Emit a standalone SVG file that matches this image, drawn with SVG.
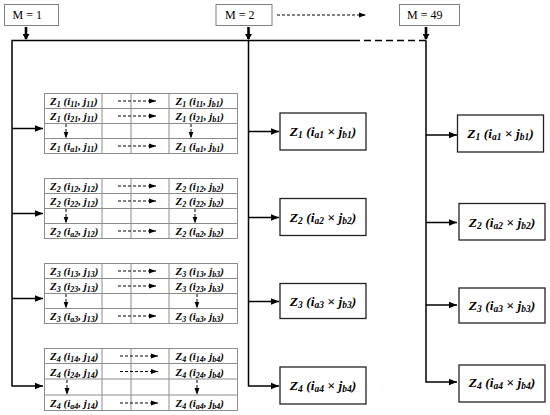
<svg xmlns="http://www.w3.org/2000/svg" width="550" height="415" viewBox="0 0 550 415">
<style>
.mbox{fill:#fff;stroke:#808080;stroke-width:1}
.mtxt{font-family:"Liberation Serif",serif;font-size:12px;fill:#000}
.conn{fill:none;stroke:#000;stroke-width:1.5}
.thick{fill:none;stroke:#000;stroke-width:2.6}
.dash{fill:none;stroke:#000;stroke-width:1;stroke-dasharray:3,2}
.grid{fill:#fff;stroke:#8c8c8c;stroke-width:1}
.gl{stroke:#8c8c8c;stroke-width:1}
.tt{font-family:"Liberation Serif",serif;font-size:11px;font-weight:bold;font-style:italic;fill:#000}
.zb{fill:#fff;stroke:#222;stroke-width:1.3}
.zt{font-family:"Liberation Serif",serif;font-size:13.5px;font-weight:bold;font-style:italic;fill:#000;text-anchor:middle}
.s{font-size:8px}
.s2{font-size:9.5px}
</style>
<defs>
<marker id="ah" markerUnits="userSpaceOnUse" markerWidth="8" markerHeight="8" viewBox="0 0 8 8" refX="8" refY="4" orient="auto">
<path d="M0,0.8 L8,4 L0,7.2 Z" fill="#000"/>
</marker>
<marker id="ahs" markerUnits="userSpaceOnUse" markerWidth="7" markerHeight="6" viewBox="0 0 7 6" refX="7" refY="3" orient="auto">
<path d="M0,0.5 L7,3 L0,5.5 Z" fill="#000"/>
</marker>
<marker id="aht" markerUnits="userSpaceOnUse" markerWidth="7" markerHeight="7" viewBox="0 0 7 7" refX="5" refY="3.5" orient="auto">
<path d="M0,0 L6,3.5 L0,7 Z" fill="#000"/>
</marker>
</defs>

<g id="m1"><rect class="mbox" x="4.5" y="4.5" width="54" height="21"/><text class="mtxt" x="12.5" y="19">M = 1</text></g>
<g id="m2"><rect class="mbox" x="216" y="4.5" width="56" height="21"/><text class="mtxt" x="225" y="19">M = 2</text></g>
<g id="m49"><rect class="mbox" x="399.5" y="4.5" width="60" height="21"/><text class="mtxt" x="407" y="19">M = 49</text></g>

<g id="connectors">
<line class="dash" x1="277" y1="15" x2="366" y2="15" stroke-width="1.3" stroke-dasharray="4,2.5" marker-end="url(#ahs)"/>
<line class="thick" x1="26" y1="27" x2="26" y2="39" marker-end="url(#aht)"/>
<line class="thick" x1="248.5" y1="27" x2="248.5" y2="39" marker-end="url(#aht)"/>
<line class="thick" x1="426" y1="27" x2="426" y2="39" marker-end="url(#aht)"/>
<polyline class="conn" points="353,40.5 12,40.5 12,386 43,386" marker-end="url(#ah)"/>
<line class="conn" x1="353" y1="40.5" x2="426" y2="40.5" stroke-dasharray="7,4"/>
<line class="conn" x1="12" y1="128.5" x2="43" y2="128.5" marker-end="url(#ah)"/>
<line class="conn" x1="12" y1="213.5" x2="43" y2="213.5" marker-end="url(#ah)"/>
<line class="conn" x1="12" y1="298.5" x2="43" y2="298.5" marker-end="url(#ah)"/>
<polyline class="conn" points="248.5,40.5 248.5,386 279,386" marker-end="url(#ah)"/>
<line class="conn" x1="248.5" y1="131.5" x2="279" y2="131.5" marker-end="url(#ah)"/>
<line class="conn" x1="248.5" y1="217.5" x2="279" y2="217.5" marker-end="url(#ah)"/>
<line class="conn" x1="248.5" y1="301.5" x2="279" y2="301.5" marker-end="url(#ah)"/>
<polyline class="conn" points="426,40.5 426,382 457,382" marker-end="url(#ah)"/>
<line class="conn" x1="426" y1="135" x2="457" y2="135" marker-end="url(#ah)"/>
<line class="conn" x1="426" y1="222.5" x2="457" y2="222.5" marker-end="url(#ah)"/>
<line class="conn" x1="426" y1="305" x2="457" y2="305" marker-end="url(#ah)"/>
</g>

<g id="table1" transform="translate(0,93)">
<rect class="grid" x="44.5" y="0.5" width="193" height="60"/>
<line class="gl" x1="44.5" y1="15.5" x2="237.5" y2="15.5"/><line class="gl" x1="44.5" y1="30.5" x2="237.5" y2="30.5"/><line class="gl" x1="44.5" y1="45.5" x2="237.5" y2="45.5"/>
<line class="gl" x1="102" y1="0.5" x2="102" y2="60.5"/><line class="gl" x1="131" y1="0.5" x2="131" y2="60.5"/><line class="gl" x1="169" y1="0.5" x2="169" y2="60.5"/>
<text class="tt" x="50" y="12">Z<tspan class="s" dy="2">1</tspan><tspan dy="-2"> (i</tspan><tspan class="s" dy="2">11</tspan><tspan dy="-2">, j</tspan><tspan class="s" dy="2">11</tspan><tspan dy="-2">)</tspan></text>
<text class="tt" x="50" y="27">Z<tspan class="s" dy="2">1</tspan><tspan dy="-2"> (i</tspan><tspan class="s" dy="2">21</tspan><tspan dy="-2">, j</tspan><tspan class="s" dy="2">11</tspan><tspan dy="-2">)</tspan></text>
<text class="tt" x="50" y="57">Z<tspan class="s" dy="2">1</tspan><tspan dy="-2"> (i</tspan><tspan class="s" dy="2">a1</tspan><tspan dy="-2">, j</tspan><tspan class="s" dy="2">11</tspan><tspan dy="-2">)</tspan></text>
<text class="tt" x="175.5" y="12">Z<tspan class="s" dy="2">1</tspan><tspan dy="-2"> (i</tspan><tspan class="s" dy="2">11</tspan><tspan dy="-2">, j</tspan><tspan class="s" dy="2">b1</tspan><tspan dy="-2">)</tspan></text>
<text class="tt" x="175.5" y="27">Z<tspan class="s" dy="2">1</tspan><tspan dy="-2"> (i</tspan><tspan class="s" dy="2">21</tspan><tspan dy="-2">, j</tspan><tspan class="s" dy="2">b1</tspan><tspan dy="-2">)</tspan></text>
<text class="tt" x="175.5" y="57">Z<tspan class="s" dy="2">1</tspan><tspan dy="-2"> (i</tspan><tspan class="s" dy="2">a1</tspan><tspan dy="-2">, j</tspan><tspan class="s" dy="2">b1</tspan><tspan dy="-2">)</tspan></text>
<line class="dash" x1="118" y1="8" x2="156" y2="8" marker-end="url(#ahs)"/>
<line class="dash" x1="118" y1="23" x2="156" y2="23" marker-end="url(#ahs)"/>
<line class="dash" x1="118" y1="53" x2="156" y2="53" marker-end="url(#ahs)"/>
<line class="dash" x1="66" y1="31" x2="66" y2="45.5" marker-end="url(#ahs)"/>
<line class="dash" x1="191" y1="31" x2="191" y2="45.5" marker-end="url(#ahs)"/>
</g>

<g id="table2" transform="translate(0,178)">
<rect class="grid" x="44.5" y="0.5" width="193" height="60"/>
<line class="gl" x1="44.5" y1="15.5" x2="237.5" y2="15.5"/><line class="gl" x1="44.5" y1="30.5" x2="237.5" y2="30.5"/><line class="gl" x1="44.5" y1="45.5" x2="237.5" y2="45.5"/>
<line class="gl" x1="102" y1="0.5" x2="102" y2="60.5"/><line class="gl" x1="131" y1="0.5" x2="131" y2="60.5"/><line class="gl" x1="169" y1="0.5" x2="169" y2="60.5"/>
<text class="tt" x="50" y="12">Z<tspan class="s" dy="2">2</tspan><tspan dy="-2"> (i</tspan><tspan class="s" dy="2">12</tspan><tspan dy="-2">, j</tspan><tspan class="s" dy="2">12</tspan><tspan dy="-2">)</tspan></text>
<text class="tt" x="50" y="27">Z<tspan class="s" dy="2">2</tspan><tspan dy="-2"> (i</tspan><tspan class="s" dy="2">22</tspan><tspan dy="-2">, j</tspan><tspan class="s" dy="2">12</tspan><tspan dy="-2">)</tspan></text>
<text class="tt" x="50" y="57">Z<tspan class="s" dy="2">2</tspan><tspan dy="-2"> (i</tspan><tspan class="s" dy="2">a2</tspan><tspan dy="-2">, j</tspan><tspan class="s" dy="2">12</tspan><tspan dy="-2">)</tspan></text>
<text class="tt" x="175.5" y="12">Z<tspan class="s" dy="2">2</tspan><tspan dy="-2"> (i</tspan><tspan class="s" dy="2">12</tspan><tspan dy="-2">, j</tspan><tspan class="s" dy="2">b2</tspan><tspan dy="-2">)</tspan></text>
<text class="tt" x="175.5" y="27">Z<tspan class="s" dy="2">2</tspan><tspan dy="-2"> (i</tspan><tspan class="s" dy="2">22</tspan><tspan dy="-2">, j</tspan><tspan class="s" dy="2">b2</tspan><tspan dy="-2">)</tspan></text>
<text class="tt" x="175.5" y="57">Z<tspan class="s" dy="2">2</tspan><tspan dy="-2"> (i</tspan><tspan class="s" dy="2">a2</tspan><tspan dy="-2">, j</tspan><tspan class="s" dy="2">b2</tspan><tspan dy="-2">)</tspan></text>
<line class="dash" x1="118" y1="8" x2="156" y2="8" marker-end="url(#ahs)"/>
<line class="dash" x1="118" y1="23" x2="156" y2="23" marker-end="url(#ahs)"/>
<line class="dash" x1="118" y1="53" x2="156" y2="53" marker-end="url(#ahs)"/>
<line class="dash" x1="66" y1="31" x2="66" y2="45.5" marker-end="url(#ahs)"/>
<line class="dash" x1="195" y1="31" x2="195" y2="45.5" marker-end="url(#ahs)"/>
</g>

<g id="table3" transform="translate(0,263)">
<rect class="grid" x="44.5" y="0.5" width="193" height="60"/>
<line class="gl" x1="44.5" y1="15.5" x2="237.5" y2="15.5"/><line class="gl" x1="44.5" y1="30.5" x2="237.5" y2="30.5"/><line class="gl" x1="44.5" y1="45.5" x2="237.5" y2="45.5"/>
<line class="gl" x1="102" y1="0.5" x2="102" y2="60.5"/><line class="gl" x1="131" y1="0.5" x2="131" y2="60.5"/><line class="gl" x1="169" y1="0.5" x2="169" y2="60.5"/>
<text class="tt" x="50" y="12">Z<tspan class="s" dy="2">3</tspan><tspan dy="-2"> (i</tspan><tspan class="s" dy="2">13</tspan><tspan dy="-2">, j</tspan><tspan class="s" dy="2">13</tspan><tspan dy="-2">)</tspan></text>
<text class="tt" x="50" y="27">Z<tspan class="s" dy="2">3</tspan><tspan dy="-2"> (i</tspan><tspan class="s" dy="2">23</tspan><tspan dy="-2">, j</tspan><tspan class="s" dy="2">13</tspan><tspan dy="-2">)</tspan></text>
<text class="tt" x="50" y="57">Z<tspan class="s" dy="2">3</tspan><tspan dy="-2"> (i</tspan><tspan class="s" dy="2">a3</tspan><tspan dy="-2">, j</tspan><tspan class="s" dy="2">13</tspan><tspan dy="-2">)</tspan></text>
<text class="tt" x="175.5" y="12">Z<tspan class="s" dy="2">3</tspan><tspan dy="-2"> (i</tspan><tspan class="s" dy="2">13</tspan><tspan dy="-2">, j</tspan><tspan class="s" dy="2">b3</tspan><tspan dy="-2">)</tspan></text>
<text class="tt" x="175.5" y="27">Z<tspan class="s" dy="2">3</tspan><tspan dy="-2"> (i</tspan><tspan class="s" dy="2">23</tspan><tspan dy="-2">, j</tspan><tspan class="s" dy="2">b3</tspan><tspan dy="-2">)</tspan></text>
<text class="tt" x="175.5" y="57">Z<tspan class="s" dy="2">3</tspan><tspan dy="-2"> (i</tspan><tspan class="s" dy="2">a3</tspan><tspan dy="-2">, j</tspan><tspan class="s" dy="2">b3</tspan><tspan dy="-2">)</tspan></text>
<line class="dash" x1="118" y1="8" x2="156" y2="8" marker-end="url(#ahs)"/>
<line class="dash" x1="118" y1="23" x2="156" y2="23" marker-end="url(#ahs)"/>
<line class="dash" x1="118" y1="53" x2="156" y2="53" marker-end="url(#ahs)"/>
<line class="dash" x1="66" y1="31" x2="66" y2="45.5" marker-end="url(#ahs)"/>
<line class="dash" x1="197" y1="31" x2="197" y2="45.5" marker-end="url(#ahs)"/>
</g>

<g id="table4" transform="translate(0,348)">
<rect class="grid" x="44.5" y="0.5" width="193" height="62"/>
<line class="gl" x1="44.5" y1="15.5" x2="237.5" y2="15.5"/><line class="gl" x1="44.5" y1="31" x2="237.5" y2="31"/><line class="gl" x1="44.5" y1="47" x2="237.5" y2="47"/>
<line class="gl" x1="102" y1="0.5" x2="102" y2="62.5"/><line class="gl" x1="131" y1="0.5" x2="131" y2="62.5"/><line class="gl" x1="169" y1="0.5" x2="169" y2="62.5"/>
<text class="tt" x="50" y="12">Z<tspan class="s" dy="2">4</tspan><tspan dy="-2"> (i</tspan><tspan class="s" dy="2">14</tspan><tspan dy="-2">, j</tspan><tspan class="s" dy="2">14</tspan><tspan dy="-2">)</tspan></text>
<text class="tt" x="50" y="27.5">Z<tspan class="s" dy="2">4</tspan><tspan dy="-2"> (i</tspan><tspan class="s" dy="2">24</tspan><tspan dy="-2">, j</tspan><tspan class="s" dy="2">14</tspan><tspan dy="-2">)</tspan></text>
<text class="tt" x="50" y="59">Z<tspan class="s" dy="2">4</tspan><tspan dy="-2"> (i</tspan><tspan class="s" dy="2">a4</tspan><tspan dy="-2">, j</tspan><tspan class="s" dy="2">14</tspan><tspan dy="-2">)</tspan></text>
<text class="tt" x="175.5" y="12">Z<tspan class="s" dy="2">4</tspan><tspan dy="-2"> (i</tspan><tspan class="s" dy="2">14</tspan><tspan dy="-2">, j</tspan><tspan class="s" dy="2">b4</tspan><tspan dy="-2">)</tspan></text>
<text class="tt" x="175.5" y="27.5">Z<tspan class="s" dy="2">4</tspan><tspan dy="-2"> (i</tspan><tspan class="s" dy="2">24</tspan><tspan dy="-2">, j</tspan><tspan class="s" dy="2">b4</tspan><tspan dy="-2">)</tspan></text>
<text class="tt" x="175.5" y="59">Z<tspan class="s" dy="2">4</tspan><tspan dy="-2"> (i</tspan><tspan class="s" dy="2">a4</tspan><tspan dy="-2">, j</tspan><tspan class="s" dy="2">b4</tspan><tspan dy="-2">)</tspan></text>
<line class="dash" x1="120" y1="8" x2="158" y2="8" marker-end="url(#ahs)"/>
<line class="dash" x1="120" y1="23.5" x2="158" y2="23.5" marker-end="url(#ahs)"/>
<line class="dash" x1="120" y1="55" x2="158" y2="55" marker-end="url(#ahs)"/>
<line class="dash" x1="67" y1="32" x2="67" y2="47" marker-end="url(#ahs)"/>
<line class="dash" x1="197" y1="32" x2="197" y2="47" marker-end="url(#ahs)"/>
</g>

<g id="r2_1"><rect class="zb" x="280" y="113" width="86" height="37"/><text class="zt" x="323" y="136">Z<tspan class="s2" dy="2">1</tspan><tspan dy="-2"> (i</tspan><tspan class="s2" dy="2">a1</tspan><tspan dy="-2"> × j</tspan><tspan class="s2" dy="2">b1</tspan><tspan dy="-2">)</tspan></text></g>
<g id="r2_2"><rect class="zb" x="280" y="198.5" width="86" height="37"/><text class="zt" x="323" y="221.5">Z<tspan class="s2" dy="2">2</tspan><tspan dy="-2"> (i</tspan><tspan class="s2" dy="2">a2</tspan><tspan dy="-2"> × j</tspan><tspan class="s2" dy="2">b2</tspan><tspan dy="-2">)</tspan></text></g>
<g id="r2_3"><rect class="zb" x="280" y="283.5" width="86" height="35"/><text class="zt" x="323" y="305.5">Z<tspan class="s2" dy="2">3</tspan><tspan dy="-2"> (i</tspan><tspan class="s2" dy="2">a3</tspan><tspan dy="-2"> × j</tspan><tspan class="s2" dy="2">b3</tspan><tspan dy="-2">)</tspan></text></g>
<g id="r2_4"><rect class="zb" x="280" y="367" width="86" height="37"/><text class="zt" x="323" y="390">Z<tspan class="s2" dy="2">4</tspan><tspan dy="-2"> (i</tspan><tspan class="s2" dy="2">a4</tspan><tspan dy="-2"> × j</tspan><tspan class="s2" dy="2">b4</tspan><tspan dy="-2">)</tspan></text></g>

<g id="r49_1"><rect class="zb" x="457.5" y="115" width="86" height="37"/><text class="zt" x="500.5" y="138">Z<tspan class="s2" dy="2">1</tspan><tspan dy="-2"> (i</tspan><tspan class="s2" dy="2">a1</tspan><tspan dy="-2"> × j</tspan><tspan class="s2" dy="2">b1</tspan><tspan dy="-2">)</tspan></text></g>
<g id="r49_2"><rect class="zb" x="459" y="203.5" width="86" height="36.5"/><text class="zt" x="502" y="226.5">Z<tspan class="s2" dy="2">2</tspan><tspan dy="-2"> (i</tspan><tspan class="s2" dy="2">a2</tspan><tspan dy="-2"> × j</tspan><tspan class="s2" dy="2">b2</tspan><tspan dy="-2">)</tspan></text></g>
<g id="r49_3"><rect class="zb" x="459" y="288" width="86" height="35"/><text class="zt" x="502" y="309.5">Z<tspan class="s2" dy="2">3</tspan><tspan dy="-2"> (i</tspan><tspan class="s2" dy="2">a3</tspan><tspan dy="-2"> × j</tspan><tspan class="s2" dy="2">b3</tspan><tspan dy="-2">)</tspan></text></g>
<g id="r49_4"><rect class="zb" x="459" y="365" width="86" height="37"/><text class="zt" x="502" y="387">Z<tspan class="s2" dy="2">4</tspan><tspan dy="-2"> (i</tspan><tspan class="s2" dy="2">a4</tspan><tspan dy="-2"> × j</tspan><tspan class="s2" dy="2">b4</tspan><tspan dy="-2">)</tspan></text></g>
</svg>
